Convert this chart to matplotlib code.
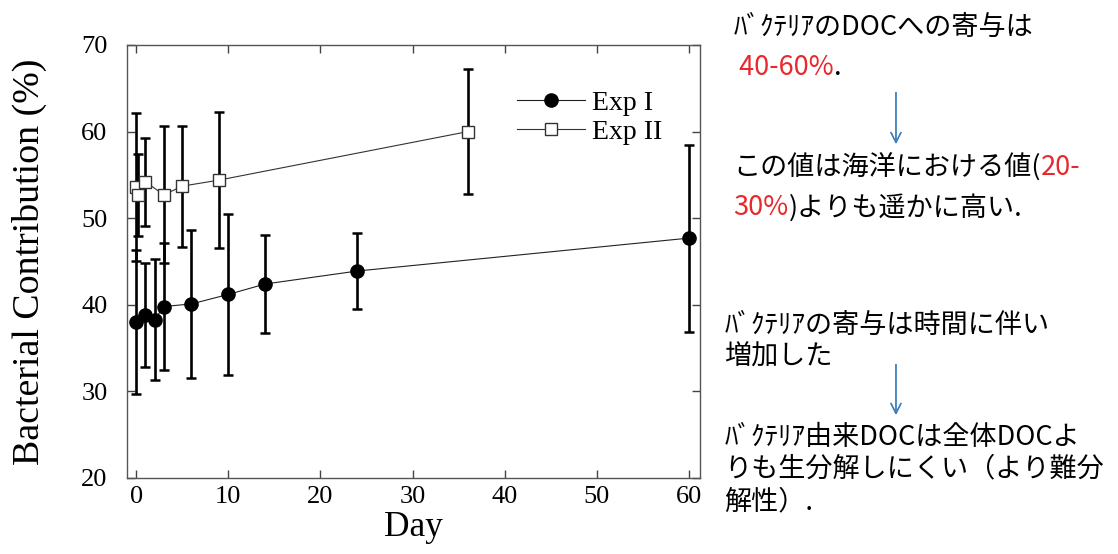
import numpy as np
import matplotlib.pyplot as plt

# Exp I: filled circles
day1 = [0, 1, 2, 3, 6, 10, 14, 24, 60]
bc1 = [38.0, 38.8, 38.3, 39.8, 40.1, 41.2, 42.4, 43.9, 47.7]
err1 = [8.3, 6.0, 7.0, 7.3, 8.5, 9.3, 5.7, 4.4, 10.8]

# Exp II: open squares
day2 = [0, 0.2, 1, 3, 5, 9, 36]
bc2 = [53.6, 52.7, 54.2, 52.7, 53.7, 54.4, 60.0]
err2 = [8.6, 4.7, 5.1, 7.9, 7.0, 7.9, 7.2]

yticks = [20, 30, 40, 50, 60, 70]
xticks = [0, 10, 20, 30, 40, 50, 60]

serif = ['Liberation Serif', 'DejaVu Serif']
jp = ['Noto Sans CJK JP', 'DejaVu Sans']
red = '#e8282c'

fig = plt.figure(figsize=(11.18, 5.54), dpi=100)
ax = fig.add_axes([0.1136, 0.1372, 0.5125, 0.7816])

ax.errorbar(day1, bc1, yerr=err1, fmt='none', ecolor='black',
            elinewidth=1.9, capsize=3.5, capthick=1.8, zorder=2)
ax.errorbar(day2, bc2, yerr=err2, fmt='none', ecolor='black',
            elinewidth=1.9, capsize=3.5, capthick=1.8, zorder=2)
ax.plot(day1, bc1, '-o', color='#222222', lw=0.8, ms=9.5,
        mfc='black', mec='black', label='Exp I', zorder=3)
ax.plot(day2, bc2, '-s', color='#333333', lw=0.8, ms=8,
        mfc='white', mec='#333333', mew=1.0, label='Exp II', zorder=3)

ax.set_xlim(-1, 61.2)
ax.set_ylim(20, 70)
ax.set_xticks(xticks)
ax.set_yticks(yticks)
ax.tick_params(direction='in', length=6, width=1, top=True, right=True,
               labelsize=19, color='#444444')
ax.tick_params(axis='y', pad=14)
ax.tick_params(axis='x', pad=6)
for lab in ax.get_xticklabels() + ax.get_yticklabels():
    lab.set_family(serif)
for sp in ax.spines.values():
    sp.set_color('#555555')
    sp.set_linewidth(1.0)

ax.set_xlabel('Day', family=serif, fontsize=25.5, labelpad=2)
ax.set_ylabel('Bacterial Contribution (%)', family=serif, fontsize=27.3)
ax.yaxis.set_label_coords(-0.139, 0.5)

leg = ax.legend(loc='upper right', bbox_to_anchor=(0.978, 0.953), frameon=False,
                prop={'family': serif, 'size': 20}, handlelength=2.45,
                handletextpad=0.25, labelspacing=0.12)

# annotation text on the right, with red segments for the percentages
def seg_line(x, y, parts, size=19.5):
    fig.canvas.draw()
    r = fig.canvas.get_renderer()
    for txt, col in parts:
        t = fig.text(x, y, txt, color=col, family=jp, fontsize=size,
                     va='center', ha='left')
        bb = t.get_window_extent(renderer=r)
        x += bb.width / fig.bbox.width

seg_line(0.656, 0.950, [('ﾊﾞｸﾃﾘｱのDOCへの寄与は', 'black')])
seg_line(0.656, 0.878, [(' 40-60%', red), ('.', 'black')])
seg_line(0.656, 0.697, [('この値は海洋における値(', 'black'), ('20-', red)])
seg_line(0.656, 0.625, [('30%', red), (')よりも遥かに高い.', 'black')])
seg_line(0.648, 0.413, [('ﾊﾞｸﾃﾘｱの寄与は時間に伴い', 'black')])
seg_line(0.648, 0.356, [('増加した', 'black')])
seg_line(0.648, 0.211, [('ﾊﾞｸﾃﾘｱ由来DOCは全体DOCよ', 'black')])
seg_line(0.648, 0.153, [('りも生分解しにくい（より難分', 'black')])
seg_line(0.648, 0.094, [('解性）.', 'black')])

arrow = dict(arrowstyle='->', color='#3f7fbf', lw=1.0, mutation_scale=18)
fig.add_artist(plt.annotate('', xy=(0.8014, 0.735), xytext=(0.8014, 0.838),
                            xycoords='figure fraction', arrowprops=arrow))
fig.add_artist(plt.annotate('', xy=(0.8014, 0.246), xytext=(0.8014, 0.347),
                            xycoords='figure fraction', arrowprops=arrow))

fig.savefig('out.png', dpi=100)
